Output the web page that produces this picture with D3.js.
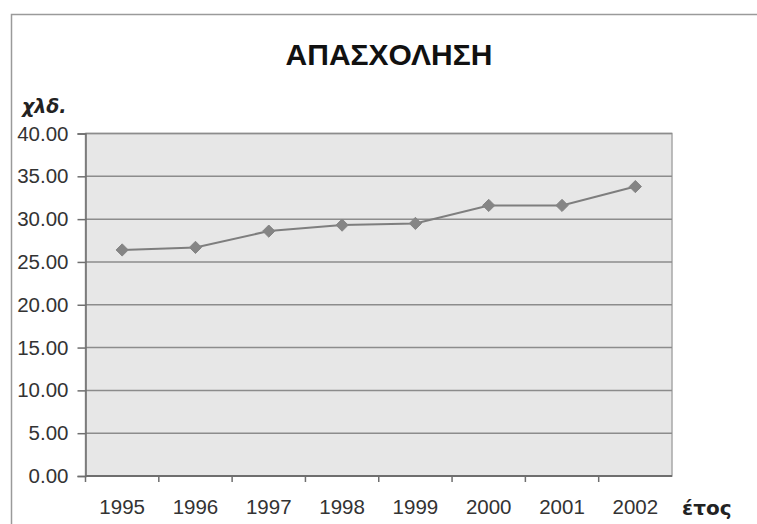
<!DOCTYPE html>
<html>
<head>
<meta charset="utf-8">
<script src="https://cdn.jsdelivr.net/npm/d3@7"></script>
<style>
  body { margin: 0; background: #fff; }
  text { font-family: "Liberation Sans", Arial, sans-serif; }
</style>
</head>
<body>
<script>
const years = ["1995", "1996", "1997", "1998", "1999", "2000", "2001", "2002"];
const employment = [26.4, 26.7, 28.6, 29.3, 29.5, 31.6, 31.6, 33.8];
const yTicks = [0, 5, 10, 15, 20, 25, 30, 35, 40];

const w = 757;
const h = 524;
const margin = { top: 133.5, right: 85, bottom: 48, left: 85.5 };

const svg = d3.select("body")
  .append("svg")
  .attr("width", w)
  .attr("height", h);

// outer frame of the chart object
svg.append("rect")
  .attr("x", 11.5)
  .attr("y", 14.5)
  .attr("width", w)
  .attr("height", h)
  .attr("fill", "none")
  .attr("stroke", "#9a9a9a")
  .attr("stroke-width", 1.5);

const x = d3.scaleBand()
  .domain(years)
  .range([margin.left, w - margin.right]);

const y = d3.scaleLinear()
  .domain([0, 40])
  .range([h - margin.bottom, margin.top]);

// plot area
svg.append("rect")
  .attr("x", margin.left)
  .attr("y", margin.top)
  .attr("width", w - margin.right - margin.left)
  .attr("height", h - margin.bottom - margin.top)
  .attr("fill", "#e7e7e7")
  .attr("stroke", "#a8a8a8")
  .attr("stroke-width", 1.5);

// gridlines
svg.append("g")
  .selectAll("line")
  .data(yTicks.filter(d => d > 0))
  .enter()
  .append("line")
  .attr("x1", margin.left)
  .attr("x2", w - margin.right)
  .attr("y1", d => y(d))
  .attr("y2", d => y(d))
  .attr("stroke", "#8c8c8c")
  .attr("stroke-width", 1.5);

// y axis
const yAxis = svg.append("g")
  .attr("transform", `translate(${margin.left},0)`)
  .call(d3.axisLeft(y).tickValues(yTicks).tickFormat(d3.format(".2f")).tickSize(8).tickPadding(9));
yAxis.select(".domain").attr("stroke", "#6e6e6e").attr("stroke-width", 1.5);
yAxis.selectAll(".tick line").attr("stroke", "#6e6e6e").attr("stroke-width", 1.5);
yAxis.selectAll("text")
  .attr("fill", "#333")
  .style("font-size", "20.5px")
  .style("font-family", "'Liberation Sans', Arial, sans-serif");

// x axis: ticks sit on the category boundaries
const xAxis = svg.append("g")
  .attr("transform", `translate(0,${h - margin.bottom})`);
xAxis.append("line")
  .attr("x1", margin.left)
  .attr("x2", w - margin.right)
  .attr("stroke", "#6e6e6e")
  .attr("stroke-width", 2);
xAxis.selectAll(".tk")
  .data(years)
  .enter()
  .append("line")
  .attr("class", "tk")
  .attr("x1", d => x(d))
  .attr("x2", d => x(d))
  .attr("y1", 0)
  .attr("y2", 6)
  .attr("stroke", "#6e6e6e")
  .attr("stroke-width", 1.5);
xAxis.selectAll(".lbl")
  .data(years)
  .enter()
  .append("text")
  .attr("class", "lbl")
  .attr("x", d => x(d) + x.bandwidth() / 2)
  .attr("y", 38)
  .attr("text-anchor", "middle")
  .attr("fill", "#333")
  .style("font-size", "20.5px")
  .text(d => d);

// series line
const line = d3.line()
  .x((d, i) => x(years[i]) + x.bandwidth() / 2)
  .y(d => y(d));

svg.append("path")
  .datum(employment)
  .attr("d", line)
  .attr("fill", "none")
  .attr("stroke", "#7e7e7e")
  .attr("stroke-width", 2);

svg.append("g")
  .selectAll("path")
  .data(employment)
  .enter()
  .append("path")
  .attr("d", d3.symbol().type(d3.symbolDiamond2).size(95))
  .attr("transform", (d, i) => `translate(${x(years[i]) + x.bandwidth() / 2},${y(d)})`)
  .attr("fill", "#858585")
  .attr("stroke", "#858585")
  .attr("stroke-width", 1);

// title and axis captions
svg.append("text")
  .attr("x", 389)
  .attr("y", 65)
  .attr("text-anchor", "middle")
  .attr("fill", "#111")
  .style("font-size", "30px")
  .style("font-weight", "bold")
  .text("ΑΠΑΣΧΟΛΗΣΗ");

svg.append("text")
  .attr("x", 22)
  .attr("y", 113)
  .attr("fill", "#222")
  .style("font-family", "'DejaVu Sans', sans-serif")
  .style("font-size", "19px")
  .style("font-weight", "bold")
  .style("font-style", "italic")
  .text("χλδ.");

svg.append("text")
  .attr("x", 682)
  .attr("y", 515)
  .attr("fill", "#222")
  .style("font-family", "'DejaVu Sans', sans-serif")
  .style("font-size", "20px")
  .style("font-weight", "bold")
  .text("έτος");
</script>
</body>
</html>
